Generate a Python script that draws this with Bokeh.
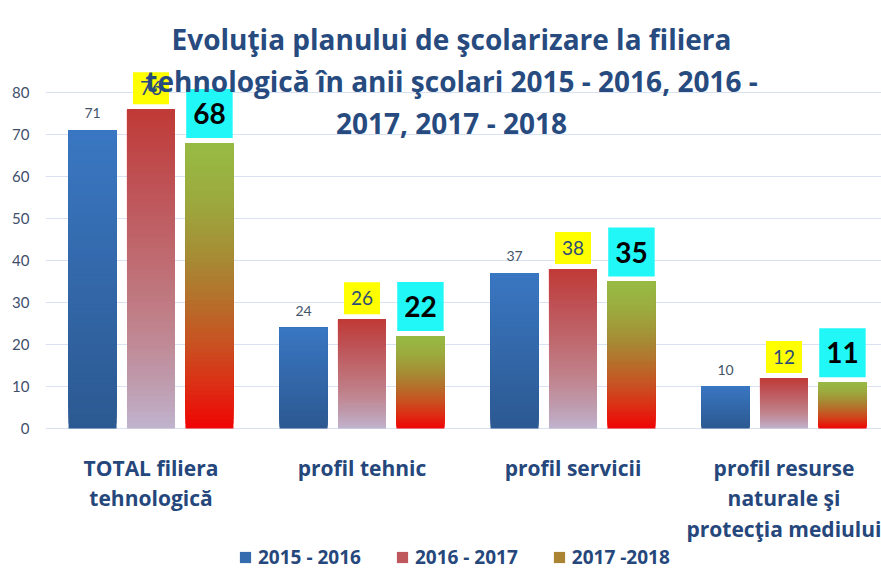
import numpy as np
from bokeh.plotting import figure
from bokeh.models import Range1d, FixedTicker, ColumnDataSource, Legend, LegendItem
from bokeh.core.properties import value
from bokeh.embed import file_html
from bokeh.resources import INLINE

# ---------------- data ----------------
categories = ["TOTAL filiera\ntehnologică", "profil tehnic", "profil servicii",
              "profil resurse\nnaturale şi\nprotecţia mediului"]
series_names = ["2015 - 2016", "2016 - 2017", "2017 -2018"]
v2015 = [71, 24, 37, 10]
v2016 = [76, 26, 38, 12]
v2017 = [68, 22, 35, 11]
y_ticks = [0, 10, 20, 30, 40, 50, 60, 70, 80]
title_lines = ["Evoluţia planului de şcolarizare la filiera",
               "tehnologică în anii şcolari 2015 - 2016, 2016 -",
               "2017, 2017 - 2018"]

# ---------------- styles ----------------
FONT = "Open Sans"
DARK = "#25477B"
PXX = 211.0   # px per category
PXY = 4.2     # px per unit
grad_blue = [(0.0, "#2C5991"), (1.0, "#3A77C2")]
grad_red = [(0.0, "#C0B3CD"), (0.15, "#BF9AAC"), (0.3, "#C0858F"), (0.5, "#BF6E74"),
            (0.75, "#BE5357"), (1.0, "#C03A36")]
grad_green = [(0.0, "#F00404"), (0.15, "#DC2E14"), (0.3, "#C85222"), (0.45, "#B5702B"),
              (0.6, "#A68C35"), (0.8, "#9CAA3E"), (1.0, "#97BB44")]


def hex2rgb(h):
    h = h.lstrip("#")
    return [int(h[i:i + 2], 16) for i in (0, 2, 4)]


def grad_color(stops, t):
    for (t0, c0), (t1, c1) in zip(stops[:-1], stops[1:]):
        if t0 <= t <= t1:
            f = (t - t0) / (t1 - t0) if t1 > t0 else 0
            a, b = hex2rgb(c0), hex2rgb(c1)
            return "#%02x%02x%02x" % tuple(int(round(a[k] + (b[k] - a[k]) * f)) for k in range(3))
    return stops[-1][1]


N = 60
offsets = [-0.277, 0.0, 0.277]
bar_w = 0.2275
cat_x = [i + 0.5 for i in range(len(categories))]

W, H = 881, 584
LEFT, TOP = 45, 20
ZERO_Y = 428
p = figure(width=W, height=H, output_backend="svg", toolbar_location=None,
           x_range=Range1d(0, (W - LEFT) / PXX),
           y_range=Range1d(-(H - ZERO_Y) / PXY, (ZERO_Y - TOP) / PXY),
           min_border_left=LEFT, min_border_right=0, min_border_top=TOP, min_border_bottom=0)
p.outline_line_color = None
p.background_fill_color = "white"
p.border_fill_color = "white"
p.xaxis.visible = False

bar_renderers = []
for vals, grad, off in zip([v2015, v2016, v2017], [grad_blue, grad_red, grad_green], offsets):
    xs, bots, tops, cols = [], [], [], []
    for cx, v in zip(cat_x, vals):
        for k in range(N):
            xs.append(cx + off)
            bots.append(v * k / N)
            tops.append(v)
            cols.append(grad_color(grad, (k + 0.5) / N))
    src = ColumnDataSource(dict(x=xs, bottom=bots, top=tops, color=cols))
    r = p.vbar(x="x", bottom="bottom", top="top", width=bar_w, source=src,
               fill_color="color", line_color=None)
    bar_renderers.append(r)

# value labels
s1 = ColumnDataSource(dict(x=[c + offsets[0] for c in cat_x], y=v2015, t=[str(v) for v in v2015]))
p.text(x="x", y="y", text="t", source=s1, text_align="center", text_baseline="bottom",
       y_offset=-12, text_font=value("Lato"), text_font_size="14px", text_color="#44546A")

s2 = ColumnDataSource(dict(x=[c + offsets[1] for c in cat_x], y=v2016, t=[str(v) for v in v2016]))
p.text(x="x", y="y", text="t", source=s2, text_align="center", text_baseline="bottom",
       anchor="bottom_center", y_offset=-5, padding=dict(top=9, bottom=9, left=7, right=7),
       background_fill_color="#FFFF00",
       text_font=value("Lato"), text_font_size="19px", text_color="#2B4A7A")

s3 = ColumnDataSource(dict(x=[c + offsets[2] for c in cat_x], y=v2017, t=[str(v) for v in v2017]))
p.text(x="x", y="y", text="t", source=s3, text_align="center", text_baseline="bottom",
       anchor="bottom_center", y_offset=-5, padding=dict(top=14, bottom=14, left=7, right=7),
       background_fill_color="#22F7F8",
       text_font=value("Lato"), text_font_size="28px", text_font_style="bold", text_color="black")

# title (overlapping plot area as in reference)
tsrc = ColumnDataSource(dict(x=[(451 - LEFT) / PXX] * 3,
                             y=[(ZERO_Y - 38) / PXY, (ZERO_Y - 80) / PXY, (ZERO_Y - 122) / PXY],
                             t=title_lines))
p.text(x="x", y="y", text="t", source=tsrc, text_align="center", text_baseline="middle",
       text_font=value(FONT), text_font_size="28px", text_font_style="bold", text_color="#274B7F")

# category labels
csrc = ColumnDataSource(dict(x=cat_x, y=[(ZERO_Y - 453) / PXY] * 4, t=categories))
p.text(x="x", y="y", text="t", source=csrc, text_align="center", text_baseline="top",
       text_line_height=1.1, text_font=value(FONT), text_font_size="21px",
       text_font_style="bold", text_color=DARK)

# axes / grid
p.xgrid.visible = False
p.ygrid.ticker = FixedTicker(ticks=y_ticks)
p.ygrid.grid_line_color = "#D9E2F2"
p.ygrid.grid_line_width = 1
p.yaxis.ticker = FixedTicker(ticks=y_ticks)
p.yaxis.axis_line_color = None
p.yaxis.major_tick_line_color = None
p.yaxis.minor_tick_line_color = None
p.yaxis.major_label_standoff = 10
p.yaxis.major_label_text_font = "Lato"
p.yaxis.major_label_text_font_size = "15px"
p.yaxis.major_label_text_color = "#3F4F6B"

# legend (swatch colour taken from a mid-height slice of each series)
items = []
for name, r, frac in zip(series_names, bar_renderers, [0.6, 0.7, 0.55]):
    items.append(LegendItem(label=name, renderers=[r], index=int(frac * N)))
legend = Legend(items=items, orientation="horizontal", location=(193, 14),
                glyph_width=14, glyph_height=14, label_standoff=6, spacing=34,
                padding=0, margin=0, background_fill_alpha=0, border_line_color=None,
                label_text_font=FONT, label_text_font_size="19px",
                label_text_font_style="bold", label_text_color=DARK)
p.add_layout(legend, "center")

open("out.html", "w").write(file_html(p, INLINE))
